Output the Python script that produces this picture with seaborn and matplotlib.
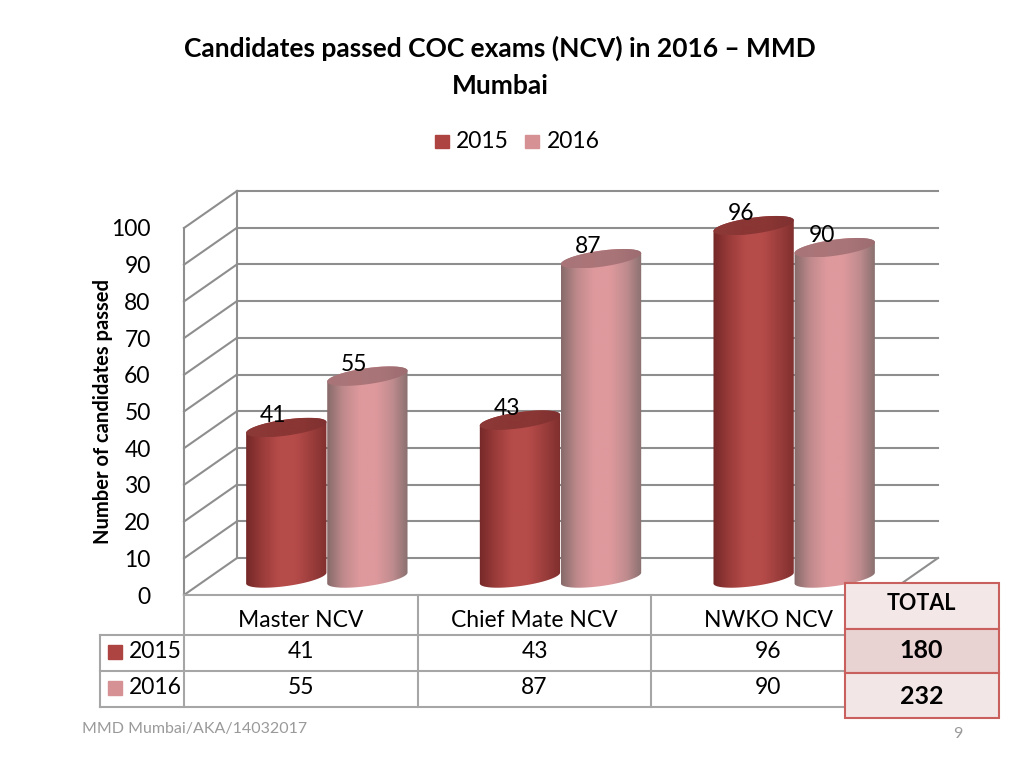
import matplotlib
matplotlib.use("Agg")
import matplotlib.pyplot as plt
import numpy as np
import pandas as pd
import seaborn as sns
from matplotlib.colors import LinearSegmentedColormap
from matplotlib.lines import Line2D
from matplotlib.patches import Rectangle
from matplotlib.path import Path
from matplotlib.transforms import IdentityTransform

exams = ["Master NCV", "Chief Mate NCV", "NWKO NCV"]
years = ["2015", "2016"]
passed_2015 = [41, 43, 96]
passed_2016 = [55, 87, 90]
totals = [180, 232]
y_ticks = list(range(0, 101, 10))

W, H = 1024, 768
DEPTH_X, DEPTH_Y = 53, 37       # 3d wall offset in px
FLOOR_X, FLOOR_Y = 26, 17       # bars stand halfway into the floor
TILT = 8
ELL_B = 8

side_2015 = ["#742828", "#9a3c3a", "#b64c4a", "#b64c4a", "#9c3e3c", "#7e2e2e"]
side_2016 = ["#866a6a", "#c08a8c", "#de999d", "#de999d", "#c08c8e", "#866e6e"]
cap_2015 = ["#8c3a38", "#8a3634", "#8a3634", "#7e3030"]
cap_2016 = ["#a87478", "#ac7679", "#a87478", "#9c6c70"]
key_2015 = "#ad4442"
key_2016 = "#d59193"
wall_grey = "#8e8e8e"
table_grey = "#a6a6a6"
box_edge = "#c9605e"
box_fill = ["#f3e7e7", "#e9d2d2", "#f3e6e6"]

df = pd.DataFrame({
    "exam": exams * 2,
    "year": [years[0]] * 3 + [years[1]] * 3,
    "passed": passed_2015 + passed_2016,
})

sns.set_theme(style="white")
plt.rcParams["font.family"] = ["Lato", "DejaVu Sans"]

fig = plt.figure(figsize=(W / 100, H / 100), dpi=100, facecolor="white")
ax = fig.add_axes([184 / W, (H - 595) / H, 701 / W, 367 / H])
sns.barplot(df, x="exam", y="passed", hue="year", hue_order=years, width=0.694, gap=0,
            palette=[key_2015, key_2016], legend=False, ax=ax)
ax.set_xlim(-0.5, 2.5)
ax.set_ylim(0, 100)
ax.set_autoscale_on(False)
ax.set_yticks(y_ticks)
ax.set_xlabel("")
ax.set_ylabel("")
ax.tick_params(axis="both", length=0)
ax.tick_params(axis="y", labelsize=16.5, pad=24, labelcolor="black")
ax.tick_params(axis="x", labelsize=16.5, pad=11, labelcolor="black")
sns.despine(ax=ax, left=True, bottom=True)
ax.patch.set_alpha(0)

px = IdentityTransform()


def line(xs, ys, color=wall_grey, lw=1.5, z=1):
    # xs, ys in pixels from the top left
    ax.add_line(Line2D(xs, [H - y for y in ys], color=color, lw=lw, transform=px,
                       clip_on=False, zorder=z, solid_capstyle="projecting"))


def label(x, y, s, size=16.5, **kw):
    kw.setdefault("ha", "center")
    kw.setdefault("va", "center")
    kw.setdefault("color", "black")
    ax.text(x, H - y, s, fontsize=size, transform=px, clip_on=False, zorder=10, **kw)


def ellipse_pts(cx, cy, a, t):
    th = np.radians(TILT)
    x = cx + a * np.cos(t) * np.cos(th) - ELL_B * np.sin(t) * np.sin(th)
    y = cy + a * np.cos(t) * np.sin(th) + ELL_B * np.sin(t) * np.cos(th)
    return np.column_stack([x, y])


def shaded(path_pts, colors, left, right, z):
    cmap = LinearSegmentedColormap.from_list("shade", colors)
    grad = np.linspace(0, 1, 256).reshape(1, -1)
    ys = path_pts[:, 1]
    im = ax.imshow(grad, extent=[left, right, ys.min(), ys.max()], cmap=cmap, aspect="auto",
                   transform=px, zorder=z, interpolation="bilinear")
    im.set_clip_box(fig.bbox)
    im.set_clip_path(Path(np.vstack([path_pts, path_pts[:1]]), closed=True), transform=px)


# walls, from the value scale
for v in y_ticks:
    fx, fy = ax.transData.transform((-0.5, v))
    bx, by = ax.transData.transform((2.5, v))
    line([fx, fx + DEPTH_X], [H - fy, H - fy - DEPTH_Y])
    line([fx + DEPTH_X, bx + DEPTH_X], [H - fy - DEPTH_Y, H - fy - DEPTH_Y])
fx, f0 = ax.transData.transform((-0.5, 0))
_, f100 = ax.transData.transform((-0.5, 100))
bx, _ = ax.transData.transform((2.5, 0))
line([fx + DEPTH_X, fx + DEPTH_X], [H - f0 - DEPTH_Y, H - f100 - DEPTH_Y])
line([fx, fx], [H - f100, H - f0])
line([bx, bx + DEPTH_X], [H - f0, H - f0 - DEPTH_Y])

# cylinders on top of the hidden seaborn bars
z = 3.0
data_labels = []
for hue_i, container in enumerate(ax.containers):
    side = [side_2015, side_2016][hue_i]
    cap = [cap_2015, cap_2016][hue_i]
    for bar in container:
        bar.set_visible(False)
        (x0, y0), (x1, y1) = ax.transData.transform(
            [(bar.get_x(), 0), (bar.get_x() + bar.get_width(), bar.get_height())])
        x0 += FLOOR_X
        x1 += FLOOR_X
        y0 += FLOOR_Y
        y1 += FLOOR_Y
        cx = (x0 + x1) / 2
        a = (x1 - x0) / 2
        t_up = np.linspace(0, np.pi, 80)
        t_dn = np.linspace(np.pi, 2 * np.pi, 80)
        body = np.vstack([ellipse_pts(cx, y1, a, t_up), ellipse_pts(cx, y0, a, t_dn)])
        top = ellipse_pts(cx, y1, a, np.linspace(0, 2 * np.pi, 160))
        # later category goes over, 2016 over 2015
        order = z + hue_i + list(container).index(bar) * 0.1
        shaded(body, side, x0, x1, order)
        shaded(top, cap, x0, x1, order + 0.05)
        data_labels.append((cx - 13, y1 + 12, f"{bar.get_height():.0f}"))
for x, y, s in data_labels:
    label(x, H - y, s)

# data table
for y in [595, 635, 671, 707]:
    line([100 if y > 600 else 184, 885], [y, y], color=table_grey, z=2)
for x in [100, 184, 417.5, 651, 885]:
    line([x, x], [635 if x == 100 else 595, 707], color=table_grey, z=2)
for y, vals, name, color in [(652, passed_2015, years[0], key_2015), (688, passed_2016, years[1], key_2016)]:
    ax.add_patch(Rectangle((108, H - y - 7), 14, 14, color=color, transform=px, clip_on=False, zorder=2))
    label(129, y, name, ha="left")
    for i, v in enumerate(vals):
        cx, _ = ax.transData.transform((i, 0))
        label(cx, y, str(v))

# total box
box_rows = [(583, 629, "TOTAL", 15.5), (629, 673, str(totals[0]), 18), (673, 718, str(totals[1]), 18)]
for (top_y, bot_y, s, size), fill in zip(box_rows, box_fill):
    ax.add_patch(Rectangle((845, H - bot_y), 153.5, bot_y - top_y, facecolor=fill, edgecolor=box_edge,
                           lw=1.5, transform=px, clip_on=False, zorder=8))
    label(921.5, (top_y + bot_y) / 2 - (2 if s == "TOTAL" else 0) + (1 if s == str(totals[1]) else 0),
          s, size=size, fontweight="bold")

# title, legend, axis title, footer
label(500, 48, "Candidates passed COC exams (NCV) in 2016 \u2013 MMD", size=19, fontweight="bold")
label(500, 86, "Mumbai", size=19, fontweight="bold")
for sq_x, tx, name, color in [(435, 456, years[0], key_2015), (525, 547, years[1], key_2016)]:
    ax.add_patch(Rectangle((sq_x, H - 148), 13.5, 13.5, color=color, transform=px, clip_on=False, zorder=2))
    label(tx, 141, name, ha="left")
label(103, 411, "Number of candidates passed", size=14.5, fontweight="bold", rotation=90)
label(82, 729, "MMD Mumbai/AKA/14032017", size=11.5, ha="left", color="#9a9a9a")
label(958, 734, "9", size=11.5, color="#9a9a9a")

fig.savefig("out.png", dpi=100)
